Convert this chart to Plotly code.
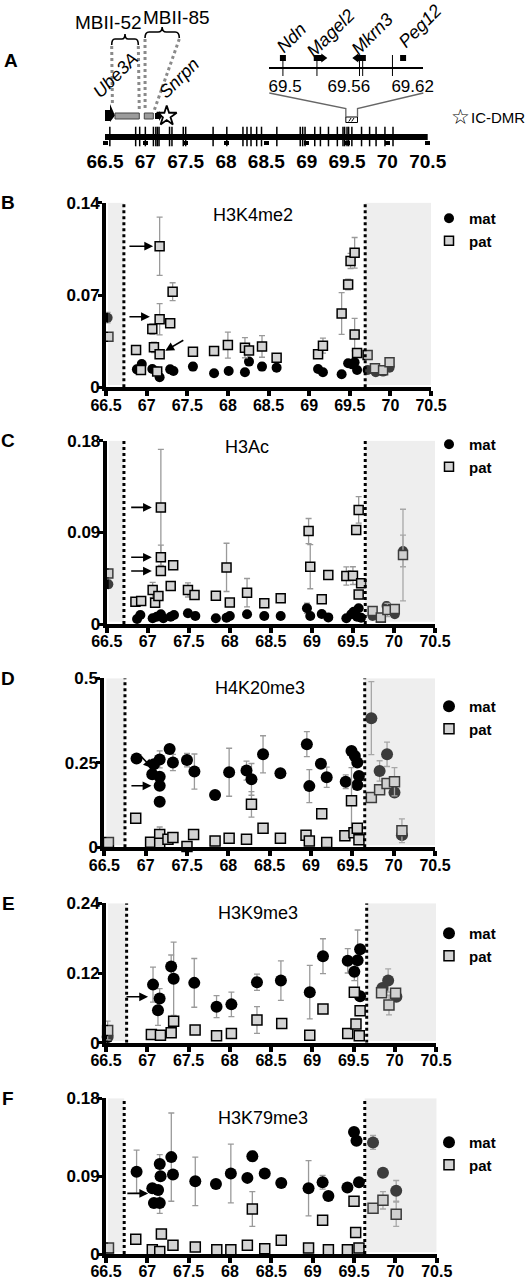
import plotly.graph_objects as go

FONT = "Liberation Sans, Arial, Helvetica, DejaVu Sans, sans-serif"
W, H = 525, 1280

# ---------------- shared genomic axis (Mb) ----------------
MB_RANGE = [66.5, 70.5]
MB_TICKS = [66.5, 67, 67.5, 68, 68.5, 69, 69.5, 70, 70.5]
MB_TICKTEXT = ["66.5", "67", "67.5", "68", "68.5", "69", "69.5", "70", "70.5"]

# ---------------- panel A: map of the region ----------------
AMPLICON_MB = [66.56, 66.88, 66.93, 67.00, 67.10, 67.13, 67.15, 67.17, 67.30, 67.33,
               67.47, 67.50, 67.84, 68.01, 68.21, 68.26, 68.31, 68.38, 68.44, 68.63,
               68.92, 68.95, 68.98, 69.10, 69.17, 69.27, 69.38, 69.45, 69.47, 69.50,
               69.52, 69.56, 69.68, 69.78, 69.86, 69.97, 70.07]
CHROM_SPAN = [66.46, 70.52]
UBE3A_MB = [66.447, 66.562, 66.624]      # body start, head start, tip
MBII52_MB = [66.624, 66.925]
MBII85_MB = [66.987, 67.099]
SNRPN_MB = [67.120, 67.170, 67.210]
IC_DMR_MB = [67.265]
MBII52_BRACE = [66.583, 66.913]
MBII85_BRACE = [66.996, 67.421]

INSET_RANGE = [69.4852, 69.630]
INSET_TICKS = [69.5, 69.56, 69.62]
INSET_TICKTEXT = ["69.5", "69.56", "69.62"]
INSET_MARKS = [69.498, 69.530, 69.570, 69.573, 69.601]
NDN_MB = [69.498]
MAGEL2_MB = [69.527, 69.536]
MKRN3_MB = [69.567, 69.576]
PEG12_MB = [69.611]

# ---------------- panel B: H3K4me2 ----------------
b_mat_mb = [66.52, 66.88, 66.94, 67.07, 67.13, 67.16, 67.29, 67.33, 67.57, 67.83, 68.01, 68.21, 68.26,
            68.42, 68.60, 69.11, 69.17, 69.40, 69.48, 69.53, 69.56, 69.59, 69.72, 69.82, 69.91, 69.99]
b_mat_val = [0.0528, 0.0136, 0.0177, 0.0139, 0.0119, 0.0076, 0.0136, 0.0124, 0.0157, 0.0106, 0.0124,
             0.0114, 0.0195, 0.0157, 0.0149, 0.0139, 0.0114, 0.0099, 0.0182, 0.0174, 0.0190, 0.0131,
             0.0131, 0.0114, 0.0119, 0.0149]
b_mat_sem = [0.004, 0.002, 0.002, 0.002, 0.002, 0.002, 0.002, 0.002, 0.003, 0.002, 0.002, 0.002, 0.002,
             0.003, 0.002, 0.002, 0.002, 0.002, 0.002, 0.002, 0.002, 0.002, 0.002, 0.002, 0.002, 0.002]
b_pat_mb = [66.53, 66.87, 66.93, 67.07, 67.09, 67.13, 67.16, 67.16, 67.16, 67.29, 67.32, 67.57, 67.83,
            68.00, 68.21, 68.26, 68.42, 68.60, 69.11, 69.17, 69.40, 69.48, 69.51, 69.56, 69.56, 69.59,
            69.72, 69.81, 69.91, 69.99]
b_pat_val = [0.0384, 0.0283, 0.0131, 0.0442, 0.0303, 0.0119, 0.0516, 0.1070, 0.0250, 0.0485, 0.0725,
             0.0270, 0.0275, 0.0320, 0.0300, 0.0280, 0.0310, 0.0225, 0.0250, 0.0316, 0.0560, 0.0780,
             0.0958, 0.1020, 0.0400, 0.0260, 0.0245, 0.0144, 0.0130, 0.0190]
b_pat_sem = [0.003, 0.003, 0.002, 0.004, 0.004, 0.002, 0.0118, 0.0221, 0.003, 0.002, 0.0068, 0.003,
             0.002, 0.0099, 0.0076, 0.003, 0.0082, 0.002, 0.003, 0.0057, 0.0158, 0.004, 0.0057, 0.0116,
             0.0123, 0.003, 0.002, 0.002, 0.002, 0.002]

# ---------------- panel C: H3Ac ----------------
c_mat_mb = [66.52, 66.87, 66.91, 67.06, 67.11, 67.16, 67.19, 67.28, 67.32, 67.49, 67.58, 67.83, 67.96,
            68.00, 68.21, 68.42, 68.62, 68.94, 68.98, 69.12, 69.20, 69.42, 69.48, 69.51, 69.57, 69.55,
            69.60, 69.74, 69.91, 70.01, 70.11]
c_mat_val = [0.0390, 0.0049, 0.0088, 0.0056, 0.0072, 0.0095, 0.0056, 0.0072, 0.0088, 0.0105, 0.0079,
             0.0056, 0.0062, 0.0079, 0.0095, 0.0079, 0.0079, 0.0154, 0.0079, 0.0098, 0.0065, 0.0056,
             0.0095, 0.0121, 0.0154, 0.0072, 0.0062, 0.0079, 0.0177, 0.0095, 0.0717]
c_mat_sem = [0.004, 0.002, 0.002, 0.002, 0.002, 0.002, 0.002, 0.002, 0.002, 0.002, 0.002, 0.002, 0.002,
             0.002, 0.002, 0.002, 0.002, 0.005, 0.002, 0.002, 0.002, 0.002, 0.002, 0.002, 0.002, 0.002,
             0.002, 0.002, 0.004, 0.002, 0.0155]
c_pat_mb = [66.52, 66.85, 66.92, 67.06, 67.09, 67.13, 67.16, 67.16, 67.16, 67.28, 67.31, 67.49, 67.57,
            67.83, 67.96, 68.00, 68.21, 68.42, 68.62, 68.96, 68.98, 69.12, 69.20, 69.42, 69.50, 69.54,
            69.57, 69.60, 69.57, 69.74, 69.84, 69.92, 70.01, 70.11]
c_pat_val = [0.0497, 0.0219, 0.0226, 0.0334, 0.0209, 0.0275, 0.1145, 0.0655, 0.0520, 0.0373, 0.0576,
             0.0334, 0.0285, 0.0278, 0.0556, 0.0210, 0.0308, 0.0203, 0.0252, 0.0913, 0.0563, 0.0242,
             0.0480, 0.0471, 0.0475, 0.0923, 0.1120, 0.0400, 0.0290, 0.0128, 0.0065, 0.0137, 0.0147,
             0.0677]
c_pat_sem = [0.004, 0.002, 0.002, 0.0074, 0.002, 0.003, 0.057, 0.012, 0.003, 0.002, 0.002, 0.0069,
             0.002, 0.002, 0.0237, 0.002, 0.0139, 0.002, 0.002, 0.0123, 0.0217, 0.002, 0.002, 0.009,
             0.0087, 0.003, 0.013, 0.003, 0.003, 0.002, 0.002, 0.0065, 0.002, 0.045]

# ---------------- panel D: H4K20me3 ----------------
d_mat_mb = [66.89, 67.08, 67.10, 67.17, 67.17, 67.17, 67.17, 67.29, 67.33, 67.50, 67.59, 67.84, 68.01,
            68.22, 68.28, 68.42, 68.63, 68.95, 68.98, 69.12, 69.19, 69.42, 69.49, 69.53, 69.56, 69.58,
            69.56, 69.73, 69.83, 69.92, 70.01, 70.10]
d_mat_val = [0.263, 0.216, 0.246, 0.260, 0.209, 0.182, 0.135, 0.291, 0.251, 0.258, 0.224, 0.155, 0.222,
             0.227, 0.201, 0.275, 0.219, 0.305, 0.181, 0.247, 0.207, 0.194, 0.285, 0.270, 0.251, 0.211,
             0.184, 0.382, 0.226, 0.275, 0.162, 0.036]
d_mat_sem = [0.005, 0.005, 0.005, 0.025, 0.005, 0.005, 0.005, 0.005, 0.024, 0.020, 0.052, 0.005, 0.071,
             0.028, 0.047, 0.055, 0.005, 0.037, 0.049, 0.005, 0.030, 0.020, 0.005, 0.005, 0.005, 0.005,
             0.005, 0.108, 0.030, 0.036, 0.005, 0.005]
d_pat_mb = [66.55, 66.88, 67.06, 67.17, 67.17, 67.27, 67.33, 67.50, 67.58, 67.84, 68.01, 68.22, 68.28,
            68.42, 68.63, 68.94, 68.98, 69.13, 69.19, 69.41, 69.49, 69.52, 69.56, 69.58, 69.73, 69.83,
            69.92, 70.01, 70.10]
d_pat_val = [0.014, 0.086, 0.015, 0.038, 0.012, 0.024, 0.029, 0.002, 0.038, 0.019, 0.027, 0.024, 0.127,
             0.056, 0.027, 0.036, 0.019, 0.099, 0.014, 0.034, 0.138, 0.043, 0.056, 0.022, 0.147, 0.170,
             0.189, 0.194, 0.049]
d_pat_sem = [0.003, 0.003, 0.003, 0.022, 0.003, 0.003, 0.003, 0.003, 0.003, 0.003, 0.003, 0.003, 0.038,
             0.003, 0.003, 0.003, 0.003, 0.003, 0.003, 0.003, 0.098, 0.003, 0.003, 0.003, 0.003, 0.003,
             0.003, 0.042, 0.035]

# ---------------- panel E: H3K9me3 ----------------
e_mat_mb = [66.52, 67.07, 67.15, 67.13, 67.29, 67.32, 67.57, 67.84, 68.02, 68.33, 68.62, 68.97, 69.13,
            69.43, 69.51, 69.55, 69.58, 69.58, 69.85, 69.92, 70.02]
e_mat_val = [0.010, 0.100, 0.076, 0.056, 0.131, 0.110, 0.103, 0.062, 0.066, 0.104, 0.107, 0.087, 0.149,
             0.141, 0.122, 0.142, 0.161, 0.080, 0.094, 0.107, 0.079]
e_mat_sem = [0.003, 0.030, 0.017, 0.026, 0.020, 0.063, 0.042, 0.019, 0.021, 0.014, 0.034, 0.046, 0.030,
             0.021, 0.015, 0.052, 0.003, 0.003, 0.003, 0.020, 0.003]
e_pat_mb = [66.52, 67.05, 67.16, 67.29, 67.32, 67.58, 67.84, 68.02, 68.33, 68.63, 68.97, 69.13, 69.43,
            69.51, 69.53, 69.58, 69.57, 69.84, 69.93, 70.01]
e_pat_val = [0.021, 0.014, 0.013, 0.017, 0.037, 0.022, 0.012, 0.016, 0.039, 0.033, 0.013, 0.058, 0.016,
             0.087, 0.032, 0.055, 0.012, 0.086, 0.065, 0.085]
e_pat_sem = [0.016, 0.003, 0.003, 0.003, 0.003, 0.003, 0.003, 0.003, 0.023, 0.003, 0.003, 0.003, 0.003,
             0.003, 0.003, 0.003, 0.003, 0.003, 0.017, 0.003]

# ---------------- panel F: H3K79me3 ----------------
f_mat_mb = [66.87, 67.06, 67.13, 67.08, 67.15, 67.15, 67.16, 67.29, 67.31, 67.58, 67.83, 68.01, 68.21,
            68.27, 68.42, 68.62, 68.95, 69.12, 69.19, 69.42, 69.50, 69.53, 69.56, 69.73, 69.85, 70.01]
f_mat_val = [0.095, 0.076, 0.074, 0.059, 0.059, 0.104, 0.090, 0.112, 0.092, 0.084, 0.081, 0.093, 0.088,
             0.113, 0.093, 0.082, 0.076, 0.083, 0.067, 0.077, 0.141, 0.131, 0.083, 0.129, 0.094, 0.073]
f_mat_sem = [0.025, 0.003, 0.003, 0.003, 0.012, 0.011, 0.003, 0.051, 0.003, 0.028, 0.003, 0.034, 0.003,
             0.006, 0.003, 0.003, 0.032, 0.008, 0.003, 0.003, 0.003, 0.003, 0.003, 0.008, 0.003, 0.012]
f_pat_mb = [66.53, 66.86, 67.06, 67.17, 67.15, 67.31, 67.58, 67.84, 68.01, 68.21, 68.27, 68.42, 68.62,
            68.95, 69.12, 69.19, 69.42, 69.50, 69.52, 69.56, 69.73, 69.85, 70.01]
f_pat_val = [0.007, 0.017, 0.005, 0.023, 0.003, 0.010, 0.008, 0.005, 0.005, 0.010, 0.052, 0.006, 0.016,
             0.007, 0.039, 0.005, 0.005, 0.061, 0.025, 0.007, 0.053, 0.062, 0.046]
f_pat_sem = [0.002, 0.002, 0.002, 0.002, 0.002, 0.002, 0.002, 0.002, 0.002, 0.002, 0.020, 0.002, 0.002,
             0.002, 0.002, 0.002, 0.002, 0.002, 0.002, 0.002, 0.002, 0.010, 0.014]

# panel layout (pixel boxes of each plot area) and decorations
PANELS = [
    dict(letter="B", title="H3K4me2", box=(106, 202.7, 431, 387.3), ymax=0.14, yticks=["0", "0.07", "0.14"],
         lines=(66.72, 69.69), title_pos=(0.452, 0.933), legend_top=202, size=(10, 9),
         mat=(b_mat_mb, b_mat_val, b_mat_sem), pat=(b_pat_mb, b_pat_val, b_pat_sem),
         arrows=[("pat", 7, -0.08, 0, -0.39, 0), ("pat", 6, -0.12, 0.014, -0.39, 0.014),
                 ("pat", 8, 0.07, 0.019, 0.31, 0.081)]),
    dict(letter="C", title="H3Ac", box=(106.7, 440.7, 435, 624), ymax=0.18, yticks=["0", "0.09", "0.18"],
         lines=(66.71, 69.65), title_pos=(0.426, 0.967), legend_top=428, size=(10, 9),
         mat=(c_mat_mb, c_mat_val, c_mat_sem), pat=(c_pat_mb, c_pat_val, c_pat_sem),
         arrows=[("pat", 6, -0.11, 0, -0.38, 0), ("pat", 7, -0.11, 0, -0.38, 0),
                 ("pat", 8, -0.11, 0, -0.38, 0)]),
    dict(letter="D", title="H4K20me3", box=(104.3, 678.3, 435, 847.3), ymax=0.5, yticks=["0", "0.25", "0.5"],
         lines=(66.75, 69.65), title_pos=(0.471, 0.941), legend_top=690, size=(12, 10),
         mat=(d_mat_mb, d_mat_val, d_mat_sem), pat=(d_pat_mb, d_pat_val, d_pat_sem),
         arrows=[("mat", 2, -0.02, -0.024, -0.17, 0.054), ("mat", 5, -0.10, 0, -0.36, 0)]),
    dict(letter="E", title="H3K9me3", box=(106, 903.3, 436, 1042.7), ymax=0.24, yticks=["0", "0.12", "0.24"],
         lines=(66.75, 69.66), title_pos=(0.461, 0.928), legend_top=917, size=(12, 10),
         mat=(e_mat_mb, e_mat_val, e_mat_sem), pat=(e_pat_mb, e_pat_val, e_pat_sem),
         arrows=[("mat", 2, -0.14, 0.0125, -0.42, 0.0125)]),
    dict(letter="F", title="H3K79me3", box=(106, 1098.3, 436.7, 1254), ymax=0.18, yticks=["0", "0.09", "0.18"],
         lines=(66.72, 69.63), title_pos=(0.476, 0.872), legend_top=1126, size=(12, 10),
         mat=(f_mat_mb, f_mat_val, f_mat_sem), pat=(f_pat_mb, f_pat_val, f_pat_sem),
         arrows=[("mat", 1, -0.05, -0.033, -0.32, -0.033)]),
]


def pxx(p):
    return p / W


def pxy(p):
    return 1 - p / H


fig = go.Figure()
layout = {}
shapes = []
annotations = []

tick_font = dict(family=FONT, size=16, color="black", weight="bold")


def label(text, x, y, size, xref="paper", yref="paper", **kw):
    annotations.append(dict(text=text, xref=xref, yref=yref, x=x, y=y, showarrow=False,
                            xanchor=kw.pop("xanchor", "center"), yanchor="middle",
                            font=dict(family=kw.pop("family", FONT), size=size, color="black"), **kw))


# ---------------- panels B-F ----------------
for i, p in enumerate(PANELS, start=1):
    sx = "" if i == 1 else str(i)
    xid, yid = "x" + sx, "y" + sx
    leg = "legend" + sx
    x0, y0, x1, y1 = p["box"]
    ymax = p["ymax"]

    layout["xaxis" + sx] = dict(
        domain=[pxx(x0), pxx(x1)], range=MB_RANGE, anchor=yid,
        tickvals=MB_TICKS, ticktext=MB_TICKTEXT, tickfont=tick_font, ticklabelstandoff=-5,
        showline=True, linewidth=4, linecolor="black",
        ticks="outside", ticklen=5, tickwidth=4, tickcolor="black",
        showgrid=False, zeroline=False, fixedrange=True)
    layout["yaxis" + sx] = dict(
        domain=[pxy(y1), pxy(y0)], range=[0, ymax], anchor=xid,
        tickvals=[0, ymax / 2, ymax], ticktext=p["yticks"], tickfont=dict(tick_font, size=17),
        ticklabelstandoff=-5,
        showline=True, linewidth=4, linecolor="black",
        ticks="outside", ticklen=4, tickwidth=3, tickcolor="black",
        showgrid=False, zeroline=False, fixedrange=True)

    mat_size, pat_size = p["size"]
    mx, my, me = p["mat"]
    px_, py_, pe = p["pat"]
    fig.add_trace(go.Scatter(
        x=mx, y=my, mode="markers", name="mat", xaxis=xid, yaxis=yid, legend=leg,
        cliponaxis=False,
        marker=dict(symbol="circle", size=mat_size, color="black", line=dict(width=0)),
        error_y=dict(type="data", array=me, color="#9a9a9a", thickness=1.3, width=3)))
    fig.add_trace(go.Scatter(
        x=px_, y=py_, mode="markers", name="pat", xaxis=xid, yaxis=yid, legend=leg,
        cliponaxis=False,
        marker=dict(symbol="square", size=pat_size, color="#d4d4d4", line=dict(width=1.5, color="black")),
        error_y=dict(type="data", array=pe, color="#9a9a9a", thickness=1.3, width=3)))

    layout[leg] = dict(
        x=pxx(429), y=pxy(p["legend_top"]), xanchor="left", yanchor="top",
        bgcolor="rgba(0,0,0,0)", itemwidth=30, tracegroupgap=0,
        font=dict(family=FONT, size=15, color="black", weight="bold"))

    # shaded flanks drawn over the points, then the dotted boundaries
    left, right = p["lines"]
    ypad = ymax * 0.012
    for a, b in ((MB_RANGE[0] + 0.025, left), (right, MB_RANGE[1])):
        shapes.append(dict(type="rect", xref=xid, yref=yid, x0=a, x1=b, y0=ypad, y1=ymax,
                           fillcolor="rgba(200,200,200,0.3)", line=dict(width=0), layer="above"))
    for xv in (left, right):
        shapes.append(dict(type="line", xref=xid, yref=yid, x0=xv, x1=xv, y0=0, y1=ymax,
                           line=dict(color="black", width=3, dash="dot"), layer="above"))

    label(p["title"], p["title_pos"][0], p["title_pos"][1], 18,
          xref=xid + " domain", yref=yid + " domain")
    label("<b>%s</b>" % p["letter"], pxx(8.3), pxy(y0), 19)

    for series, idx, hdx, hdy, tdx, tdy in p["arrows"]:
        sx_, sy_ = (mx, my) if series == "mat" else (px_, py_)
        annotations.append(dict(
            text="", xref=xid, yref=yid, axref=xid, ayref=yid,
            x=sx_[idx] + hdx, y=sy_[idx] + hdy * ymax,
            ax=sx_[idx] + tdx, ay=sy_[idx] + tdy * ymax,
            showarrow=True, arrowhead=2, arrowsize=1.1, arrowwidth=1.6, arrowcolor="black"))

# ---------------- panel A ----------------
A_DOM = [105 / W, 427.7 / W]
INSET_DOM = [269.3 / W, 423.3 / W]
A_ROWS = [pxy(150), 1]          # rows of panel A are counted in pixels from the top
layout["xaxis6"] = dict(
    domain=A_DOM, range=MB_RANGE, anchor="free", position=pxy(140),
    tickvals=MB_TICKS, ticktext=MB_TICKTEXT, tickfont=dict(tick_font, size=19),
    showline=False, ticks="outside", ticklen=4, tickwidth=5, tickcolor="black",
    showgrid=False, zeroline=False, fixedrange=True)
layout["yaxis6"] = dict(domain=A_ROWS, range=[150, 0], anchor="x6", visible=False, fixedrange=True)
layout["xaxis7"] = dict(
    domain=INSET_DOM, range=INSET_RANGE, anchor="free", position=pxy(67.7),
    tickvals=INSET_TICKS, ticktext=INSET_TICKTEXT,
    tickfont=dict(family=FONT, size=17, color="black"),
    showline=True, linewidth=2, linecolor="black",
    ticks="outside", ticklen=3, tickcolor="rgba(0,0,0,0)",
    showgrid=False, zeroline=False, fixedrange=True)
layout["yaxis7"] = dict(domain=A_ROWS, range=[150, 0], anchor="x7", visible=False, fixedrange=True)


def a_trace(x, y, sub="6", **kw):
    fig.add_trace(go.Scatter(x=x, y=y, xaxis="x" + sub, yaxis="y" + sub, showlegend=False,
                             hoverinfo="skip", cliponaxis=False, **kw))


# chromosome bar, its end caps and the amplicons
a_trace(CHROM_SPAN, [137, 137], mode="lines", line=dict(color="black", width=6))
a_trace(CHROM_SPAN, [139, 139], mode="markers", marker=dict(symbol="square", size=7, color="black"))
a_trace(AMPLICON_MB, [136.5] * len(AMPLICON_MB), mode="markers",
        marker=dict(symbol="line-ns", size=14, line=dict(width=1.5, color="black")))
# IC-DMR
a_trace(IC_DMR_MB, [116], mode="markers",
        marker=dict(symbol="star-open", size=15, color="black", line=dict(width=1.8, color="black")))

# inset genes
a_trace(INSET_MARKS, [65.5] * len(INSET_MARKS), sub="7", mode="markers",
        marker=dict(symbol="line-ns", size=15, line=dict(width=1, color="black")))
a_trace(NDN_MB + PEG12_MB, [58, 58], sub="7", mode="markers",
        marker=dict(symbol="square", size=6, color="black"))
a_trace(MAGEL2_MB, [58, 58], sub="7", mode="lines", line=dict(color="black", width=6))
a_trace(MAGEL2_MB[1:], [58], sub="7", mode="markers",
        marker=dict(symbol="triangle-right", size=8, color="black"))
a_trace(MKRN3_MB, [58, 58], sub="7", mode="lines", line=dict(color="black", width=6))
a_trace(MKRN3_MB[:1], [58], sub="7", mode="markers",
        marker=dict(symbol="triangle-left", size=8, color="black"))

# Ube3A arrow
u0, u1, u2 = UBE3A_MB
shapes.append(dict(type="path", xref="x6", yref="y6", fillcolor="black", line=dict(width=0),
                   path=f"M {u0},110 L {u1},110 L {u1},104 L {u2},115.5 L {u1},122 L {u1},121 L {u0},121 Z"))
# snoRNA clusters
for a, b in (MBII52_MB, MBII85_MB):
    shapes.append(dict(type="rect", xref="x6", yref="y6", x0=a, x1=b, y0=113, y1=119,
                       fillcolor="#9c9c9c", line=dict(color="#444", width=1)))
# Snrpn
s0, s1, s2 = SNRPN_MB
shapes.append(dict(type="path", xref="x6", yref="y6", fillcolor="black", line=dict(width=0),
                   path=f"M {s0},113 L {s1},113 L {s1},111 L {s2},116 L {s1},121 L {s1},119 L {s0},119 Z"))

# braces and dotted guide lines
for (a, b), top, tip in ((MBII52_BRACE, 39, 34), (MBII85_BRACE, 32, 27)):
    m, d = (a + b) / 2, (b - a) * 0.12
    shapes.append(dict(type="path", xref="x6", yref="y6", line=dict(color="black", width=1.6),
                       path=(f"M {a},{top + 6} Q {a},{top} {a + d},{top} L {m - d},{top} "
                             f"Q {m},{top} {m},{tip} Q {m},{top} {m + d},{top} L {b - d},{top} "
                             f"Q {b},{top} {b},{top + 6}")))
for (xa, ya), (xb, yb) in (((MBII52_BRACE[0], 46), (UBE3A_MB[1] + 0.03, 106)),
                           ((MBII52_BRACE[1], 46), (MBII52_MB[1], 111)),
                           ((MBII85_BRACE[0], 39), (MBII85_MB[0] + 0.01, 111)),
                           ((MBII85_BRACE[1], 39), (SNRPN_MB[0] - 0.013, 111))):
    shapes.append(dict(type="line", xref="x6", yref="y6", x0=xa, y0=ya, x1=xb, y1=yb,
                       line=dict(color="#8a8a8a", width=3, dash="dot")))

# zoomed window box and the lines up to the inset axis
h0, h1 = INSET_RANGE
shapes.append(dict(type="rect", xref="x6", yref="y6", x0=h0, x1=h1, y0=117, y1=122.5,
                   fillcolor="white", line=dict(color="black", width=1)))
hw = h1 - h0
shapes.append(dict(type="path", xref="x6", yref="y6", line=dict(color="black", width=1),
                   path=(f"M {h0 + hw * 0.25},121.5 L {h0 + hw * 0.45},118 "
                         f"M {h0 + hw * 0.5},121.5 L {h0 + hw * 0.7},118")))


def mb_to_paper(mb):
    return A_DOM[0] + (mb - MB_RANGE[0]) / (MB_RANGE[1] - MB_RANGE[0]) * (A_DOM[1] - A_DOM[0])


for top_x, box_x in ((INSET_DOM[0], h0), (INSET_DOM[1], h1)):
    bx = mb_to_paper(box_x)
    shapes.append(dict(type="path", xref="paper", yref="paper", line=dict(color="#666", width=1.3),
                       path=f"M {top_x},{pxy(93)} L {bx},{pxy(108.5)} L {bx},{pxy(117)}"))

# labels of panel A
for text, sub, x, y, size, ang in (
        ("MBII-52", "6", 66.541, 22.5, 19, 0), ("MBII-85", "6", 67.392, 17.5, 19, 0),
        ("<i>Ube3A</i>", "6", 66.634, 75, 18, -45), ("<i>Snrpn</i>", "6", 67.42, 78, 18, -45),
        ("<i>Ndn</i>", "7", 69.506, 38, 18, -45), ("<i>Magel2</i>", "7", 69.543, 33, 18, -45),
        ("<i>Mkrn3</i>", "7", 69.582, 34, 18, -45), ("<i>Peg12</i>", "7", 69.627, 26, 18, -45)):
    label(text, x, y, size, xref="x" + sub, yref="y" + sub, textangle=ang)

label("☆", pxx(460), pxy(116.5), 21, family="DejaVu Sans")
label("IC-DMR", pxx(469), pxy(117), 15, xanchor="left")
label("<b>A</b>", pxx(10.8), pxy(60), 19)

fig.update_layout(
    width=W, height=H, margin=dict(l=0, r=0, t=0, b=0),
    paper_bgcolor="white", plot_bgcolor="rgba(0,0,0,0)", template="none",
    font=dict(family=FONT, color="black"),
    shapes=shapes, annotations=annotations, **layout)

# the page's default body margin would push the figure off the window
fig.write_html("out.html", config={"displayModeBar": False},
               post_script="document.body.style.margin='0';")
